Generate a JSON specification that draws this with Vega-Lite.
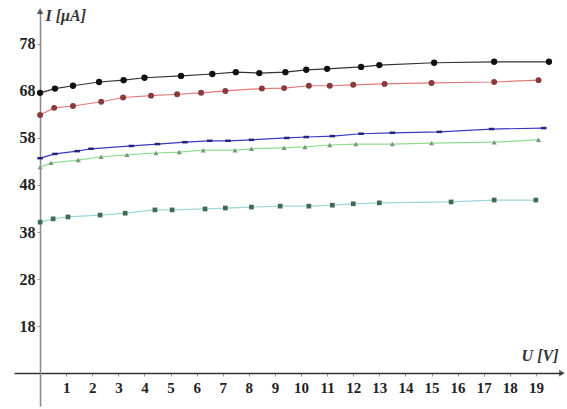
{
  "$schema": "https://vega.github.io/schema/vega-lite/v6.json",
  "width": 548,
  "height": 395,
  "autosize": {"type": "none"},
  "padding": {"left": 14, "top": 11, "right": 5, "bottom": 3},
  "background": "white",
  "config": {"view": {"stroke": null}, "axis": {"labelOverlap": false}, "axisX": {"labelOverlap": false}},
  "datasets": {
    "curves": [
      {"s":"A","U":0.0,"I":67.6},{"s":"A","U":0.57,"I":68.5},{"s":"A","U":1.26,"I":69.1},{"s":"A","U":2.26,"I":69.9},{"s":"A","U":3.2,"I":70.3},{"s":"A","U":4.0,"I":70.8},{"s":"A","U":5.4,"I":71.2},{"s":"A","U":6.6,"I":71.6},{"s":"A","U":7.5,"I":72.0},{"s":"A","U":8.4,"I":71.8},{"s":"A","U":9.4,"I":72.0},{"s":"A","U":10.2,"I":72.5},{"s":"A","U":11.0,"I":72.7},{"s":"A","U":12.3,"I":73.1},{"s":"A","U":13.0,"I":73.5},{"s":"A","U":15.1,"I":74.0},{"s":"A","U":17.4,"I":74.2},{"s":"A","U":19.5,"I":74.2},
      {"s":"B","U":0.0,"I":62.9},{"s":"B","U":0.54,"I":64.4},{"s":"B","U":1.26,"I":64.8},{"s":"B","U":2.34,"I":65.7},{"s":"B","U":3.18,"I":66.6},{"s":"B","U":4.25,"I":67.0},{"s":"B","U":5.25,"I":67.3},{"s":"B","U":6.17,"I":67.6},{"s":"B","U":7.1,"I":68.0},{"s":"B","U":8.5,"I":68.5},{"s":"B","U":9.35,"I":68.6},{"s":"B","U":10.3,"I":69.1},{"s":"B","U":11.1,"I":69.1},{"s":"B","U":12.0,"I":69.3},{"s":"B","U":13.2,"I":69.5},{"s":"B","U":15.0,"I":69.7},{"s":"B","U":17.4,"I":69.9},{"s":"B","U":19.1,"I":70.3},
      {"s":"C","U":0.0,"I":53.7},{"s":"C","U":0.57,"I":54.6},{"s":"C","U":1.42,"I":55.2},{"s":"C","U":1.95,"I":55.7},{"s":"C","U":3.5,"I":56.3},{"s":"C","U":4.5,"I":56.7},{"s":"C","U":5.55,"I":57.1},{"s":"C","U":6.5,"I":57.4},{"s":"C","U":7.2,"I":57.4},{"s":"C","U":8.1,"I":57.6},{"s":"C","U":9.45,"I":58.0},{"s":"C","U":10.2,"I":58.2},{"s":"C","U":11.2,"I":58.4},{"s":"C","U":12.3,"I":58.9},{"s":"C","U":13.5,"I":59.1},{"s":"C","U":15.3,"I":59.3},{"s":"C","U":17.3,"I":59.9},{"s":"C","U":19.3,"I":60.1},
      {"s":"D","U":0.0,"I":51.8},{"s":"D","U":0.42,"I":52.7},{"s":"D","U":1.46,"I":53.3},{"s":"D","U":2.34,"I":54.0},{"s":"D","U":3.33,"I":54.4},{"s":"D","U":4.44,"I":54.8},{"s":"D","U":5.33,"I":55.0},{"s":"D","U":6.25,"I":55.4},{"s":"D","U":7.47,"I":55.4},{"s":"D","U":8.1,"I":55.7},{"s":"D","U":9.35,"I":55.9},{"s":"D","U":10.15,"I":56.1},{"s":"D","U":11.1,"I":56.5},{"s":"D","U":12.1,"I":56.7},{"s":"D","U":13.5,"I":56.7},{"s":"D","U":15.0,"I":56.9},{"s":"D","U":17.4,"I":57.1},{"s":"D","U":19.1,"I":57.6},
      {"s":"E","U":0.0,"I":40.1},{"s":"E","U":0.5,"I":40.8},{"s":"E","U":1.07,"I":41.2},{"s":"E","U":2.3,"I":41.6},{"s":"E","U":3.26,"I":42.0},{"s":"E","U":4.4,"I":42.7},{"s":"E","U":5.06,"I":42.7},{"s":"E","U":6.32,"I":42.9},{"s":"E","U":7.1,"I":43.1},{"s":"E","U":8.1,"I":43.3},{"s":"E","U":9.2,"I":43.5},{"s":"E","U":10.3,"I":43.5},{"s":"E","U":11.2,"I":43.7},{"s":"E","U":12.0,"I":44.0},{"s":"E","U":13.0,"I":44.2},{"s":"E","U":15.75,"I":44.4},{"s":"E","U":17.4,"I":44.8},{"s":"E","U":19.0,"I":44.8}
    ],
    "arrows": [
      {"U":0,"I":85,"shape":"triangle-up"},
      {"U":20,"I":8,"shape":"triangle-right"}
    ]
  },
  "layer": [
    {
      "data": {"name": "curves"},
      "mark": {"type": "line", "strokeWidth": 1.2},
      "encoding": {
        "x": {"field": "U", "type": "quantitative",
          "scale": {"domain": [-1, 20], "nice": false, "zero": false},
          "axis": {"offset": -33, "values": [1,2,3,4,5,6,7,8,9,10,11,12,13,14,15,16,17,18,19], "tickCount": 21,
            "labelOverlap": false, "labelBound": false, "format": "d",
            "grid": false, "domainColor": "#333", "domainWidth": 1.5, "tickColor": "#999", "tickSize": 3,
            "labelFont": "Liberation Serif", "labelFontWeight": "bold", "labelFontSize": 15, "labelColor": "#222", "labelPadding": 4,
            "title": "U [V]", "titleFont": "Liberation Serif", "titleFontStyle": "italic", "titleFontWeight": "bold", "titleFontSize": 16, "titleColor": "#333",
            "titleAnchor": null, "titleAlign": "right", "titleX": 544, "titleY": -18, "titleBaseline": "middle"}},
        "y": {"field": "I", "type": "quantitative",
          "scale": {"domain": [1, 85], "nice": false, "zero": false},
          "axis": {"offset": -26, "values": [18,28,38,48,58,68,78],
            "labelOverlap": false,
            "grid": false, "domainColor": "#888", "domainWidth": 1.5, "tickColor": "#999", "tickSize": 3,
            "labelFont": "Liberation Serif", "labelFontWeight": "bold", "labelFontSize": 16, "labelColor": "#222", "labelPadding": 2,
            "title": "I [μA]", "titleFont": "Liberation Serif", "titleFontStyle": "italic", "titleFontWeight": "bold", "titleFontSize": 16, "titleColor": "#333",
            "titleAngle": 0, "titleAnchor": null, "titleAlign": "left", "titleX": 5, "titleY": 4, "titleBaseline": "middle"}},
        "color": {"field": "s", "type": "nominal", "legend": null,
          "scale": {"domain": ["A","B","C","D","E"], "range": ["#333333","#e07a7a","#3a3ac0","#8fdc8f","#9fd4da"]}}
      }
    },
    {
      "data": {"name": "curves"},
      "mark": {"type": "point", "filled": true, "opacity": 1},
      "encoding": {
        "x": {"field": "U", "type": "quantitative"},
        "y": {"field": "I", "type": "quantitative"},
        "fill": {"field": "s", "type": "nominal", "legend": null,
          "scale": {"domain": ["A","B","C","D","E"], "range": ["#111111","#8a3a3a","#24247a","#7d957a","#3f6a55"]}},
        "shape": {"field": "s", "type": "nominal", "legend": null,
          "scale": {"domain": ["A","B","C","D","E"], "range": ["circle","circle","M-1,-0.45L1,-0.45L1,0.45L-1,0.45Z","triangle-up","square"]}},
        "size": {"field": "s", "type": "nominal", "legend": null,
          "scale": {"domain": ["A","B","C","D","E"], "range": [40, 22, 40, 22, 36]}}
      }
    },
    {
      "data": {"name": "arrows"},
      "mark": {"type": "point", "filled": true, "color": "#222", "size": 45},
      "encoding": {
        "x": {"field": "U", "type": "quantitative"},
        "y": {"field": "I", "type": "quantitative"},
        "shape": {"field": "shape", "type": "nominal", "scale": null, "legend": null}
      }
    }
  ]
}
